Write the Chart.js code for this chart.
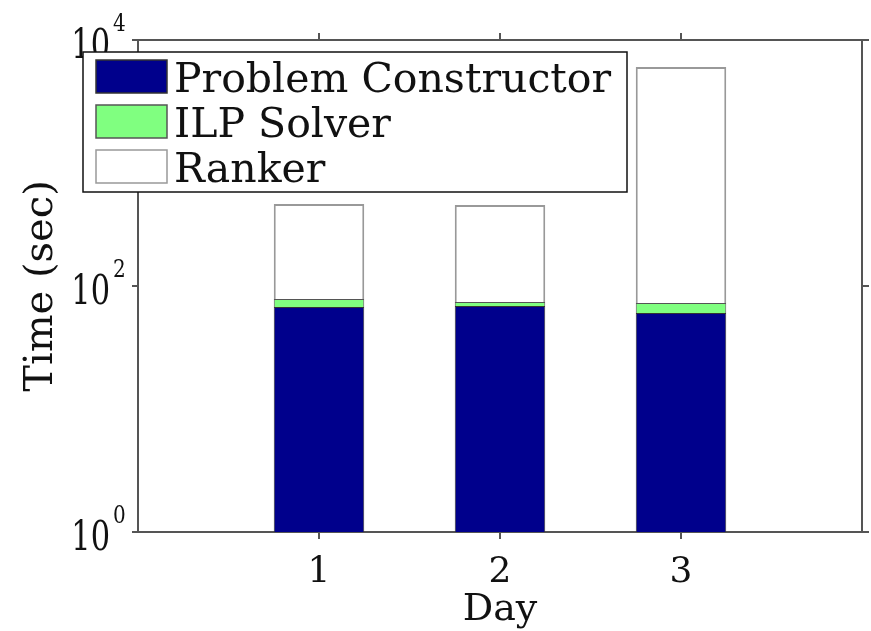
<!DOCTYPE html>
<html>
<head>
<meta charset="utf-8">
<script src="https://cdn.jsdelivr.net/npm/chart.js@4"></script>
<style>
  html, body { margin: 0; padding: 0; background: #fff; }
  #wrap { width: 871px; height: 631px; }
</style>
</head>
<body>
<div id="wrap"><canvas id="timeChart" width="871" height="631"></canvas></div>
<script>
const DAYS = [1, 2, 3];
const PROBLEM_CONSTRUCTOR = [67.5, 68.8, 60.3];
const ILP_SOLVER = [10.9, 5.3, 12.4];
const RANKER = [386, 382, 5960];
const Y_TICKS = [1, 100, 10000];
const SERIES_LABELS = ['Problem Constructor', 'ILP Solver', 'Ranker'];

const AXIS_COLOR = '#555';
const FONT = "'DejaVu Serif', serif";

const toPoints = vals => DAYS.map((d, i) => ({ x: d, y: vals[i] }));

// draws top/right frame, y tick labels (10^n) and the boxed legend
const framePlugin = {
    id: 'frame',
    afterDraw(chart) {
        const { ctx, chartArea: { left, right, top, bottom }, scales: { x, y } } = chart;
        ctx.save();
        ctx.strokeStyle = AXIS_COLOR;
        ctx.lineWidth = 2;
        ctx.beginPath();
        ctx.moveTo(left, top);
        ctx.lineTo(right, top);
        ctx.lineTo(right, bottom);
        DAYS.forEach(v => {
            const px = x.getPixelForValue(v);
            ctx.moveTo(px, top);
            ctx.lineTo(px, top - 7);
        });
        Y_TICKS.forEach(v => {
            const py = y.getPixelForValue(v);
            ctx.moveTo(right, py);
            ctx.lineTo(right + 7, py);
        });
        ctx.stroke();

        // y tick labels, drawn slightly tall like the original export
        ctx.fillStyle = '#111';
        Y_TICKS.forEach(v => {
            const py = y.getPixelForValue(v);
            const exp = String(Math.round(Math.log10(v)));
            ctx.save();
            ctx.translate(left - 28, py + 18);
            ctx.scale(0.95, 1.3);
            ctx.font = `32px ${FONT}`;
            ctx.textAlign = 'right';
            ctx.textBaseline = 'alphabetic';
            ctx.fillText('10', 0, 0);
            ctx.restore();
            ctx.save();
            ctx.translate(left - 25, py - 9);
            ctx.scale(1, 1.2);
            ctx.font = `20px ${FONT}`;
            ctx.textAlign = 'left';
            ctx.fillText(exp, 0, 0);
            ctx.restore();
        });

        // legend box
        const lx = 83, ly = 52, lw = 544, lh = 140;
        ctx.fillStyle = '#fff';
        ctx.fillRect(lx, ly, lw, lh);
        ctx.strokeStyle = '#111';
        ctx.lineWidth = 1.5;
        ctx.strokeRect(lx, ly, lw, lh);
        chart.data.datasets.forEach((ds, i) => {
            const sy = 60 + i * 45;
            ctx.fillStyle = ds.backgroundColor;
            ctx.fillRect(96, sy, 71, 33);
            ctx.strokeStyle = ds.borderColor;
            ctx.lineWidth = 1.5;
            ctx.strokeRect(96, sy, 71, 33);
            ctx.fillStyle = '#111';
            ctx.font = `41px ${FONT}`;
            ctx.textAlign = 'left';
            ctx.textBaseline = 'alphabetic';
            ctx.fillText(ds.label, 174, sy + 32);
        });
        ctx.restore();
    }
};

new Chart(document.getElementById('timeChart'), {
    type: 'bar',
    data: {
        datasets: [
            { label: SERIES_LABELS[0], data: toPoints(PROBLEM_CONSTRUCTOR), backgroundColor: '#00008c', borderColor: '#333', borderWidth: 1 },
            { label: SERIES_LABELS[1], data: toPoints(ILP_SOLVER), backgroundColor: '#80ff80', borderColor: '#555', borderWidth: 1 },
            { label: SERIES_LABELS[2], data: toPoints(RANKER), backgroundColor: '#fff', borderColor: '#999', borderWidth: 2 },
        ]
    },
    options: {
        responsive: false,
        animation: false,
        layout: { padding: { top: 40, right: 9, left: 0, bottom: 0 } },
        barPercentage: 0.5,
        categoryPercentage: 1,
        plugins: { legend: { display: false }, tooltip: { enabled: false } },
        scales: {
            x: {
                type: 'linear',
                stacked: true,
                offset: false,
                min: 0,
                max: 4,
                afterBuildTicks: s => { s.ticks = DAYS.map(v => ({ value: v })); },
                afterFit: s => { s.height = 99; },
                ticks: { color: '#111', font: { family: FONT, size: 36 }, padding: 12, callback: v => String(v) },
                grid: { offset: false, drawOnChartArea: false, tickLength: 7, color: AXIS_COLOR, lineWidth: 2 },
                border: { display: true, color: AXIS_COLOR, width: 2 },
                title: { display: true, text: 'Day', color: '#111', font: { family: FONT, size: 38, lineHeight: 1 }, padding: { top: 0, bottom: 2 } }
            },
            y: {
                type: 'logarithmic',
                stacked: true,
                min: 1,
                max: 10000,
                afterBuildTicks: s => { s.ticks = Y_TICKS.map(v => ({ value: v })); },
                afterFit: s => { s.width = 138; },
                ticks: { display: false },
                grid: { drawOnChartArea: false, tickLength: 6, color: AXIS_COLOR, lineWidth: 2 },
                border: { display: true, color: AXIS_COLOR, width: 2 },
                title: { display: true, text: 'Time (sec)', color: '#111', font: { family: FONT, size: 40, lineHeight: 1 }, padding: { top: 22, bottom: 0 } }
            }
        }
    },
    plugins: [framePlugin]
});
</script>
</body>
</html>
